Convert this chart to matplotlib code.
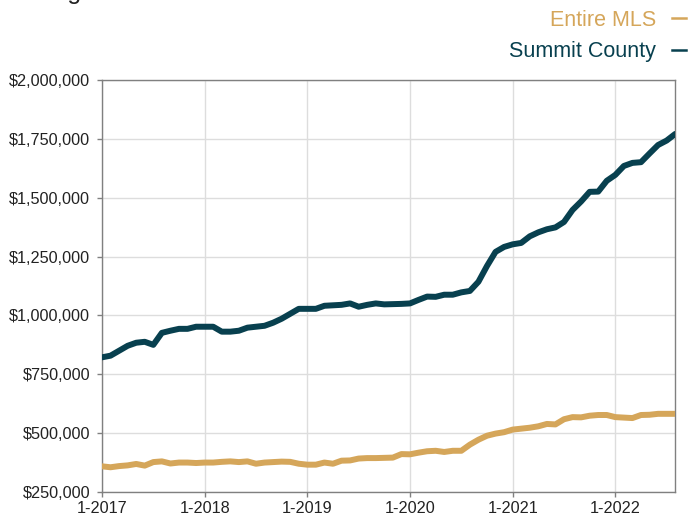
import matplotlib.pyplot as plt
from matplotlib.lines import Line2D
from matplotlib.ticker import FuncFormatter
import numpy as np

plt.rcParams['font.family'] = ['Liberation Sans', 'DejaVu Sans']

# monthly, 1-2017 .. 8-2022 (rolling 12-month median price)
months = np.arange(68)
summit = [822, 829, 850, 871, 884, 888, 875, 926, 935, 943, 943, 952,
          952, 952, 931, 931, 935, 948, 952, 956, 969, 986, 1007, 1028,
          1028, 1028, 1041, 1043, 1045, 1051, 1037, 1045, 1051, 1047, 1048, 1049,
          1051, 1066, 1080, 1079, 1088, 1088, 1098, 1104, 1143, 1210, 1270, 1291,
          1302, 1308, 1336, 1353, 1366, 1374, 1397, 1448, 1484, 1525, 1526, 1572,
          1597, 1635, 1648, 1651, 1688, 1724, 1743, 1771]
mls = [359, 355, 360, 363, 369, 362, 377, 380, 371, 375, 375, 373,
       375, 375, 378, 380, 377, 380, 370, 375, 377, 379, 378, 370,
       366, 366, 375, 370, 383, 384, 392, 394, 394, 395, 396, 411,
       410, 417, 423, 425, 420, 425, 425, 451, 472, 489, 498, 504,
       515, 519, 523, 529, 539, 537, 559, 568, 567, 574, 577, 577,
       568, 566, 564, 577, 578, 582, 582, 582]
summit = np.array(summit) * 1000
mls = np.array(mls) * 1000

year_ticks = [0, 12, 24, 36, 48, 60]
year_labels = ["1-2017", "1-2018", "1-2019", "1-2020", "1-2021", "1-2022"]

teal = "#08404f"
gold = "#d5a65a"

fig = plt.figure(figsize=(6.89, 5.21), dpi=100)
ax = fig.add_axes([0.148, 0.0557, 0.832, 0.7907])

ax.plot(months, mls, color=gold, lw=4.3, solid_capstyle="round", zorder=3)
ax.plot(months, summit, color=teal, lw=4.3, solid_capstyle="round", zorder=4)

ax.set_xlim(0, 67)
ax.set_ylim(250000, 2000000)
ax.set_xticks(year_ticks)
ax.set_xticklabels(year_labels)
ax.set_yticks(np.arange(250000, 2000001, 250000))
ax.yaxis.set_major_formatter(FuncFormatter(lambda v, p: f"${v:,.0f}"))
ax.grid(True, color="#dddddd", lw=1)
ax.set_axisbelow(True)
for s in ax.spines.values():
    s.set_color("#808080")
    s.set_linewidth(1)
ax.tick_params(colors="#808080", labelcolor="#222222", labelsize=11.7, length=3.6, width=1)
ax.tick_params(axis="y", pad=5)
ax.tick_params(axis="x", pad=3)

fig.text(0.007, 1.002, "Rolling 12-Month Calculation", fontsize=18, color="#222222",
         ha="left", va="baseline")

handles = [Line2D([], [], color=gold, lw=1.8), Line2D([], [], color=teal, lw=1.8)]
leg = fig.legend(handles, ["Entire MLS", "Summit County"], loc="upper right",
                 bbox_to_anchor=(1.008, 0.998), frameon=False, markerfirst=False,
                 handlelength=0.65, handletextpad=0.75, fontsize=15.5, labelspacing=0.5,
                 borderaxespad=0.0)
for t, c in zip(leg.get_texts(), [gold, teal]):
    t.set_color(c)

fig.savefig("out.png", dpi=100)
